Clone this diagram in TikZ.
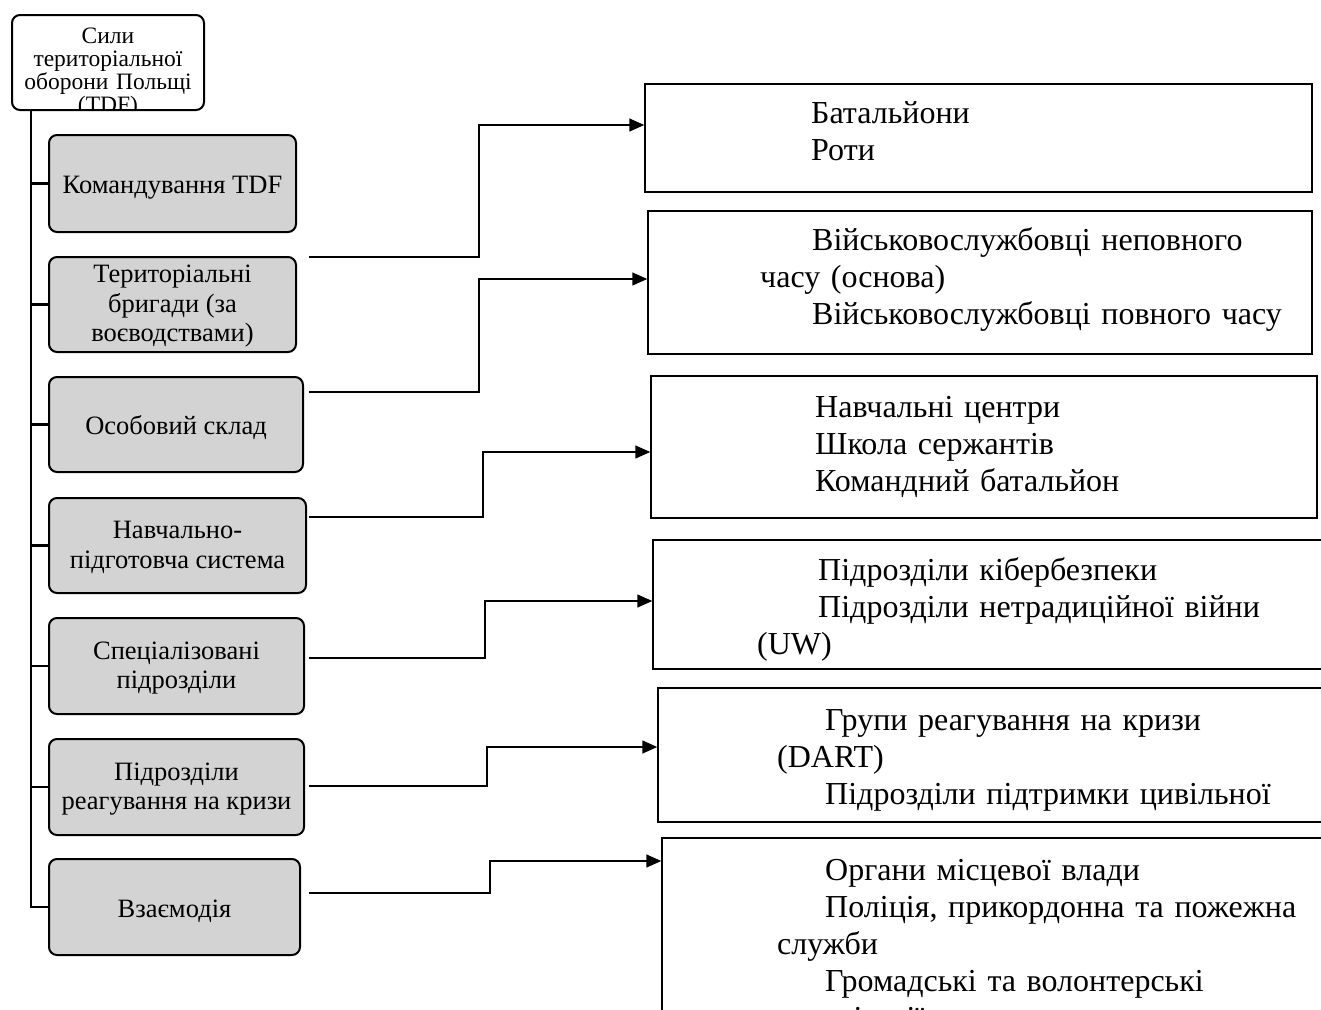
\documentclass[tikz,border=0pt]{standalone}
\usepackage{fontspec}
\setmainfont{Liberation Serif}
\usetikzlibrary{arrows.meta,calc}
\definecolor{boxgray}{RGB}{211,211,211}
\tikzset{
  rootbox/.style={draw, line width=2pt, rounded corners=8pt, fill=white, inner sep=0pt},
  lbox/.style={draw, line width=2pt, rounded corners=8pt, fill=boxgray, inner sep=0pt},
  ltext/.style={inner sep=0pt, align=center, font=\fontsize{26.5}{29.5}\selectfont},
  rbox/.style={draw, line width=1.5pt, inner sep=0pt},
  rtext/.style={anchor=base west, inner sep=0pt, text width=600pt, align=left, font=\fontsize{32}{37}\selectfont},
  trunk/.style={line width=2.5pt},
  conn/.style={line width=1.5pt, -{Triangle[length=15pt,width=13pt]}},
}
\newcommand{\ind}[1]{\hspace*{#1pt}}
\begin{document}
\begin{tikzpicture}[x=1pt,y=-1pt]
\useasboundingbox (0,0) rectangle (1321,1009);
\clip (0,0) rectangle (1321,1009);

% root
\node[rootbox, minimum width=192pt, minimum height=95pt] (root) at (108,62.5) {};
\begin{scope}
  \clip (12,16) rectangle (204,108);
  \node[anchor=base, inner sep=0pt, text width=192pt, align=center, font=\fontsize{23.5}{23}\selectfont] (roottext) at (108,43)
    {Сили\\територіальної\\оборони Польщі\\(TDF)};
\end{scope}

% left boxes
\node[lbox, minimum width=247pt, minimum height=97pt] (b1) at (172.5,183.5) {};
\node[lbox, minimum width=247pt, minimum height=95pt] (b2) at (172.5,304.5) {};
\node[lbox, minimum width=254pt, minimum height=95pt] (b3) at (176,424.5) {};
\node[lbox, minimum width=257pt, minimum height=95pt] (b4) at (177.5,545.5) {};
\node[lbox, minimum width=255pt, minimum height=96pt] (b5) at (176.5,666) {};
\node[lbox, minimum width=255pt, minimum height=96pt] (b6) at (176.5,787) {};
\node[lbox, minimum width=251pt, minimum height=96pt] (b7) at (174.5,907) {};
\node[ltext] (b1t) at ([yshift=-4pt]b1.center) {Командування TDF};
\node[ltext] (b2t) at ([yshift=-2pt]b2.center) {Територіальні\\бригади (за\\воєводствами)};
\node[ltext] (b3t) at ([yshift=-3pt]b3.center) {Особовий склад};
\node[ltext] (b4t) at ([yshift=-2pt]b4.center) {Навчально-\\підготовча система};
\node[ltext] (b5t) at ([yshift=-2pt]b5.center) {Спеціалізовані\\підрозділи};
\node[ltext] (b6t) at ([yshift=-2pt]b6.center) {Підрозділи\\реагування на кризи};
\node[ltext] (b7t) at ([yshift=-4pt]b7.center) {Взаємодія};

% trunk
\coordinate (ttop) at (31,110);
\draw[trunk] (ttop) |- (b7.west);
\foreach \i in {1,...,6} { \draw[trunk] (b\i.west -| ttop) -- (b\i.west); }

% right boxes
\node[rbox, minimum width=667pt, minimum height=108pt] (r1) at (978.5,138) {};
\node[rbox, minimum width=664pt, minimum height=143pt] (r2) at (980,282.5) {};
\node[rbox, minimum width=666pt, minimum height=142pt] (r3) at (984,447) {};
\node[rbox, minimum width=677pt, minimum height=129pt] (r4) at (991.5,604.5) {};
\node[rbox, minimum width=672pt, minimum height=134pt] (r5) at (994,755) {};
\node[rbox, minimum width=668pt, minimum height=192pt] (r6) at (996,934) {};

% right texts
\node[rtext] (t1) at (811,123) {Батальйони\\Роти};
\node[rtext] (t2) at (760,250) {\ind{52}Військовослужбовці неповного\\часу (основа)\\\ind{52}Військовослужбовці повного часу};
\node[rtext] (t3) at (815,417) {Навчальні центри\\Школа сержантів\\Командний батальйон};
\node[rtext] (t4) at (757,580) {\ind{61}Підрозділи кібербезпеки\\\ind{61}Підрозділи нетрадиційної війни\\(UW)};
\node[rtext] (t5) at (777,730) {\ind{48}Групи реагування на кризи\\(DART)\\\ind{48}Підрозділи підтримки цивільної};
\node[rtext] (t6) at (777,880) {\ind{48}Органи місцевої влади\\\ind{48}Поліція, прикордонна та пожежна\\служби\\\ind{48}Громадські та волонтерські\\організації};

% connectors
\coordinate (s1) at (309,257);
\coordinate (s2) at (309,392);
\coordinate (s3) at (309,517);
\coordinate (s4) at (309,658);
\coordinate (s5) at (309,786);
\coordinate (s6) at (309,893);
\coordinate (e1) at (r1.west |- 0,125);
\coordinate (e2) at (r2.west |- 0,279);
\coordinate (e3) at (r3.west |- 0,452);
\coordinate (e4) at (r4.west |- 0,601);
\coordinate (e5) at (r5.west |- 0,747);
\coordinate (e6) at (r6.west |- 0,861);
\draw[conn] (s1) -- (479,257) |- (e1);
\draw[conn] (s2) -- (479,392) |- (e2);
\draw[conn] (s3) -- (483,517) |- (e3);
\draw[conn] (s4) -- (485,658) |- (e4);
\draw[conn] (s5) -- (487,786) |- (e5);
\draw[conn] (s6) -- (490,893) |- (e6);
\end{tikzpicture}
\end{document}
